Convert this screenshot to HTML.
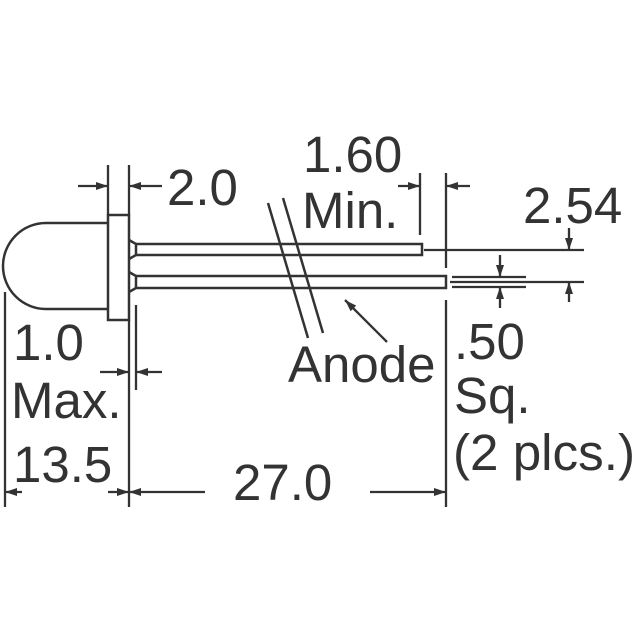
<!DOCTYPE html>
<html><head><style>
html,body{margin:0;padding:0;background:#fff;}
svg{display:block;}
text{font-family:"Liberation Sans",sans-serif;font-size:51px;fill:#333;}
</style></head><body>
<svg width="640" height="640" viewBox="0 0 640 640" xmlns="http://www.w3.org/2000/svg">
<defs>
<marker id="a" viewBox="0 0 12 8" refX="12" refY="4" markerWidth="12" markerHeight="8" markerUnits="userSpaceOnUse" orient="auto">
<path d="M0,0 L12,4 L0,8 Z" fill="#333"/></marker>
</defs>
<g stroke="#333" stroke-width="2.5" fill="none">
<path d="M108,223 L46,223 A43,43 0 0 0 46,309 L108,309"/>
<rect x="108" y="215" width="21" height="105" fill="#fff"/>
<path d="M129,240 L136,244 L136,255 L129,259"/>
<path d="M129,272 L136,276 L136,288 L129,292"/>
<path d="M136,244 L422,244 L422,255 L136,255"/>
<path d="M136,276 L446,276 L446,288 L136,288"/>
<line x1="268" y1="203" x2="308" y2="338"/>
<line x1="283" y1="198" x2="323" y2="333"/>
</g>
<g stroke="#333" stroke-width="2.3" fill="none">
<line x1="108" y1="165" x2="108" y2="215"/>
<line x1="129" y1="165" x2="129" y2="215"/>
<line x1="129" y1="320" x2="129" y2="507"/>
<line x1="136" y1="305" x2="136" y2="390"/>
<line x1="5" y1="292" x2="5" y2="507"/>
<line x1="420" y1="173" x2="420" y2="235"/>
<line x1="446" y1="173" x2="446" y2="268"/>
<line x1="446" y1="300" x2="446" y2="507"/>
<line x1="424" y1="250" x2="584" y2="250"/>
<line x1="450" y1="282" x2="584" y2="282"/>
<line x1="452" y1="277" x2="526" y2="277"/>
<line x1="452" y1="287" x2="526" y2="287"/>
<line x1="78" y1="186" x2="108" y2="186" marker-end="url(#a)"/>
<line x1="162" y1="186" x2="129" y2="186" marker-end="url(#a)"/>
<line x1="398" y1="186" x2="420" y2="186" marker-end="url(#a)"/>
<line x1="470" y1="186" x2="446" y2="186" marker-end="url(#a)"/>
<line x1="569" y1="228" x2="569" y2="250" marker-end="url(#a)"/>
<line x1="569" y1="302" x2="569" y2="282" marker-end="url(#a)"/>
<line x1="500" y1="255" x2="500" y2="277" marker-end="url(#a)"/>
<line x1="500" y1="308" x2="500" y2="287" marker-end="url(#a)"/>
<line x1="100" y1="372" x2="129" y2="372" marker-end="url(#a)"/>
<line x1="162" y1="372" x2="136" y2="372" marker-end="url(#a)"/>
<line x1="22" y1="492" x2="5" y2="492" marker-end="url(#a)"/>
<line x1="108" y1="492" x2="129" y2="492" marker-end="url(#a)"/>
<line x1="205" y1="492" x2="129" y2="492" marker-end="url(#a)"/>
<line x1="370" y1="492" x2="446" y2="492" marker-end="url(#a)"/>
<line x1="387" y1="342" x2="345" y2="300" marker-end="url(#a)"/>
</g>
<text x="167" y="205">2.0</text>
<text x="303" y="172">1.60</text>
<text x="302" y="228">Min.</text>
<text x="523" y="223">2.54</text>
<text x="288" y="382">Anode</text>
<text x="13" y="360">1.0</text>
<text x="11" y="418">Max.</text>
<text x="13" y="482">13.5</text>
<text x="233" y="500">27.0</text>
<text x="454" y="359">.50</text>
<text x="454" y="413">Sq.</text>
<text x="453" y="470" textLength="182" lengthAdjust="spacingAndGlyphs">(2 plcs.)</text>
</svg>
</body></html>
